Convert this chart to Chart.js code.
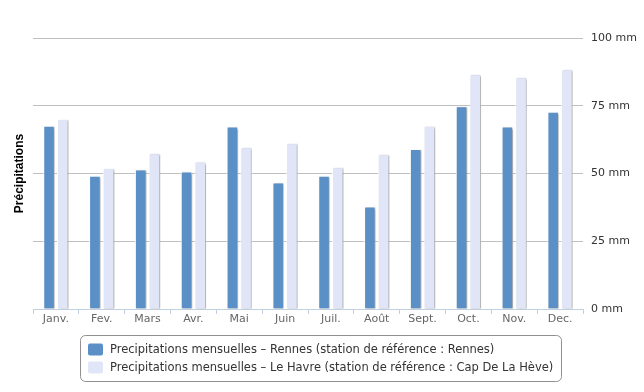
<!DOCTYPE html>
<html><head><meta charset="utf-8">
<script src="https://cdn.jsdelivr.net/npm/chart.js@4.4.1/dist/chart.umd.min.js"></script>
<style>html,body{margin:0;padding:0;background:#fff;}#wrap{width:644px;height:392px;}</style>
</head><body><div id="wrap"><canvas id="c" width="644" height="392"></canvas></div>
<script>
const months = ['Janv.','Fev.','Mars','Avr.','Mai','Juin','Juil.','Août','Sept.','Oct.','Nov.','Dec.'];
const rennes = [67.6, 49.2, 51.5, 50.7, 67.3, 46.7, 49.2, 37.8, 59.0, 74.8, 67.3, 72.8];
const havre  = [70.1, 52.0, 57.5, 54.4, 59.7, 61.2, 52.3, 57.1, 67.6, 86.6, 85.5, 88.4];
const seriesNames = [
  'Precipitations mensuelles – Rennes (station de référence : Rennes)',
  'Precipitations mensuelles – Le Havre (station de référence : Cap De La Hève)'
];
const yTicks = [0, 25, 50, 75, 100];
const yUnit = ' mm';
const yTitle = 'Précipitations';
const colors = ['#5b90c7', '#e0e6f8'];
const FONT = '"DejaVu Sans", Verdana, sans-serif';
const TFONT = '"Liberation Sans", Arial, sans-serif';

const shadowPlugin = {
  id: 'shadow',
  beforeDatasetsDraw(chart) {
    const ctx = chart.ctx;
    ctx.save();
    ctx.shadowColor = 'rgba(0,0,0,0.32)';
    ctx.shadowOffsetX = 1.5;
    ctx.shadowOffsetY = 1;
    ctx.shadowBlur = 2;
  },
  afterDatasetsDraw(chart) { chart.ctx.restore(); }
};

const titlePlugin = {
  id: 'ytitle',
  afterDraw(chart) {
    const ctx = chart.ctx, a = chart.chartArea;
    ctx.save();
    ctx.translate(20, (a.top + a.bottom) / 2);
    ctx.rotate(-Math.PI / 2);
    ctx.font = 'bold 12px ' + TFONT;
    ctx.fillStyle = '#000';
    ctx.textAlign = 'center';
    ctx.textBaseline = 'middle';
    ctx.fillText(yTitle, 0, 0);
    ctx.restore();
  }
};

function rrect(ctx, x, y, w, h, r) {
  ctx.beginPath();
  ctx.moveTo(x + r, y);
  ctx.lineTo(x + w - r, y); ctx.arcTo(x + w, y, x + w, y + r, r);
  ctx.lineTo(x + w, y + h - r); ctx.arcTo(x + w, y + h, x + w - r, y + h, r);
  ctx.lineTo(x + r, y + h); ctx.arcTo(x, y + h, x, y + h - r, r);
  ctx.lineTo(x, y + r); ctx.arcTo(x, y, x + r, y, r);
  ctx.closePath();
}

const legendPlugin = {
  id: 'boxLegend',
  afterDraw(chart) {
    const ctx = chart.ctx;
    ctx.save();
    ctx.font = '11.5px ' + FONT;
    const tw = Math.max(...chart.data.datasets.map(d => ctx.measureText(d.label).width));
    const boxW = Math.round(tw + 30 + 8);
    const boxX = Math.round(320 - boxW / 2) + 0.5;
    const boxY = 335.5, boxH = 46;
    ctx.strokeStyle = '#909090';
    ctx.lineWidth = 1;
    rrect(ctx, boxX, boxY, boxW, boxH, 5);
    ctx.stroke();
    chart.data.datasets.forEach((d, i) => {
      const cy = boxY + 14 + i * 18;
      ctx.fillStyle = d.backgroundColor;
      rrect(ctx, boxX + 7.5, cy - 6, 15, 12, 2);
      ctx.fill();
      ctx.fillStyle = '#333';
      ctx.textBaseline = 'middle';
      ctx.textAlign = 'left';
      ctx.fillText(d.label, boxX + 29.5, cy + 1);
    });
    ctx.restore();
  }
};

new Chart(document.getElementById('c'), {
  type: 'bar',
  data: {
    labels: months,
    datasets: [
      { label: seriesNames[0], data: rennes, backgroundColor: colors[0], borderColor: '#ffffff', borderWidth: 1 },
      { label: seriesNames[1], data: havre, backgroundColor: colors[1], borderColor: '#ffffff', borderWidth: 1 }
    ]
  },
  options: {
    responsive: false,
    animation: false,
    devicePixelRatio: 1,
    categoryPercentage: 0.6,
    barPercentage: 0.84,
    layout: { padding: { left: 33, top: 38, right: 0, bottom: 0 } },
    plugins: { legend: { display: false }, tooltip: { enabled: false } },
    scales: {
      x: {
        grid: { display: true, drawOnChartArea: false, drawTicks: true, tickLength: 5, color: '#c0d0e0', offset: true },
        border: { display: true, color: '#c0d0e0' },
        ticks: { color: '#666', font: { family: FONT, size: 11 }, padding: -1, maxRotation: 0 },
        afterFit(s) { s.height = 83; }
      },
      y: {
        position: 'right',
        min: yTicks[0], max: yTicks[yTicks.length - 1],
        afterBuildTicks(s) { s.ticks = yTicks.map(v => ({ value: v })); },
        grid: { color: c => (c.tick && c.tick.value === 0) ? 'rgba(0,0,0,0)' : '#c0c0c0', drawTicks: false },
        border: { display: false },
        ticks: { color: '#333', font: { family: FONT, size: 11 }, padding: 8, callback: v => v + yUnit },
        afterFit(s) { s.width = 61; }
      }
    }
  },
  plugins: [shadowPlugin, titlePlugin, legendPlugin]
});
</script></body></html>
